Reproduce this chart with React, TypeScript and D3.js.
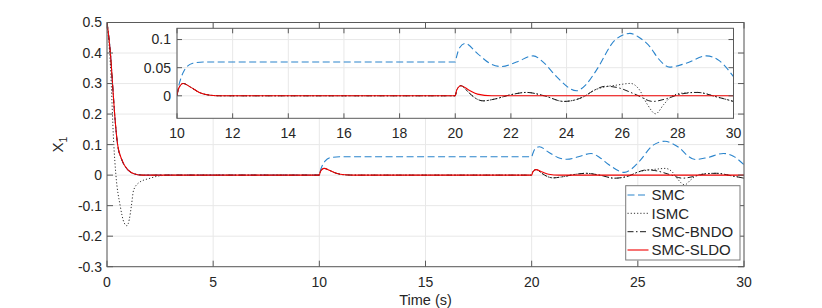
import * as d3 from "d3";

// values: [time (s), x1]
const smcData: [number, number][] = [
  [0, 0.5], [0.16, 0.4], [0.26, 0.3], [0.36, 0.2], [0.5, 0.1], [0.7, 0.05], [1.0, 0.016], [1.3, 0.004], [1.7, 0],
  [10, 0], [10.05, 0.015], [10.12, 0.028], [10.27, 0.046], [10.57, 0.058], [10.95, 0.06], [20, 0.06],
  [20.05, 0.07], [20.15, 0.085], [20.36, 0.093], [20.8, 0.075], [21.23, 0.058], [21.66, 0.052], [22.2, 0.06],
  [22.8, 0.071], [23.2, 0.058], [23.64, 0.034], [24.36, 0.009], [24.7, 0.02], [25.08, 0.046], [25.74, 0.099],
  [26.28, 0.111], [26.6, 0.104], [27.0, 0.087], [27.3, 0.066], [27.7, 0.051], [28.3, 0.058], [29.03, 0.071],
  [29.5, 0.062], [30, 0.034],
];

const ismcData: [number, number][] = [
  [0, 0.5], [0.16, 0.36], [0.32, 0.1], [0.42, 0], [0.62, -0.1], [0.8, -0.155], [0.94, -0.166], [1.05, -0.145],
  [1.15, -0.1], [1.25, -0.05], [1.5, -0.025], [2.04, -0.01], [2.5, -0.002], [3, 0],
  [10, 0], [10.05, 0.012], [10.22, 0.022], [10.5, 0.015], [10.8, 0.006], [11.2, 0.001], [11.6, 0],
  [20, 0], [20.05, 0.01], [20.2, 0.018], [20.5, 0.005], [20.75, -0.005], [21.0, -0.009], [21.4, -0.006],
  [22.0, 0.002], [22.56, 0.006], [23.2, 0.0], [23.9, -0.01], [24.6, -0.002], [25.0, 0.01], [25.4, 0.016],
  [25.8, 0.019], [26.3, 0.022], [26.6, 0.012], [26.9, -0.015], [27.2, -0.032], [27.5, -0.015], [27.8, 0],
  [28.2, 0.005], [28.7, 0.006], [29.4, -0.002], [30, -0.01],
];

const bndoData: [number, number][] = [
  [0, 0.5], [0.16, 0.4], [0.26, 0.3], [0.36, 0.2], [0.5, 0.1], [0.7, 0.05], [1.0, 0.016], [1.3, 0.004], [1.7, 0],
  [10, 0], [10.05, 0.012], [10.22, 0.022], [10.5, 0.015], [10.8, 0.006], [11.2, 0.001], [11.6, 0],
  [20, 0], [20.05, 0.01], [20.2, 0.018], [20.5, 0.005], [20.75, -0.005], [21.0, -0.009], [21.4, -0.006],
  [22.0, 0.002], [22.56, 0.006], [23.2, 0.0], [23.9, -0.01], [24.6, -0.002], [25.0, 0.01], [25.4, 0.017],
  [25.8, 0.015], [26.5, 0.002], [27.1, -0.01], [27.6, -0.005], [28.1, 0.003], [28.7, 0.006], [29.4, -0.002],
  [30, -0.01],
];

const sldoData: [number, number][] = [
  [0, 0.5], [0.16, 0.4], [0.26, 0.3], [0.36, 0.2], [0.5, 0.1], [0.7, 0.05], [1.0, 0.016], [1.3, 0.004], [1.7, 0],
  [10, 0], [10.05, 0.012], [10.22, 0.022], [10.5, 0.015], [10.8, 0.006], [11.2, 0.001], [11.6, 0],
  [20, 0], [20.05, 0.01], [20.2, 0.018], [20.5, 0.01], [20.8, 0.003], [21.3, 0], [30, 0],
];

const mainXTicks = [0, 5, 10, 15, 20, 25, 30];
const mainYTicks = [-0.3, -0.2, -0.1, 0, 0.1, 0.2, 0.3, 0.4, 0.5];
const insetXTicks = [10, 12, 14, 16, 18, 20, 22, 24, 26, 28, 30];
const insetYTicks = [0, 0.05, 0.1];

const series = [
  { name: "SMC", data: smcData, color: "#2a84cc", dash: "7,3.5", width: 1.1 },
  { name: "ISMC", data: ismcData, color: "#333", dash: "1.2,2", width: 1 },
  { name: "SMC-BNDO", data: bndoData, color: "#1a1a1a", dash: "6,2.5,1.5,2.5", width: 1 },
  { name: "SMC-SLDO", data: sldoData, color: "#f00000", dash: "none", width: 1.1 },
];

const W = 822, H = 308;
const font = "'Liberation Sans', Arial, Helvetica, sans-serif";
const txt = "#262626";
const axisCol = "#5a5a5a";
const gridCol = "#e8e8e8";

const main = { l: 107, r: 744, t: 22.5, b: 266.7 };
const inset = { l: 177, r: 733.5, t: 28.3, b: 118.3 };

export default function App() {
  const x = d3.scaleLinear().domain([0, 30]).range([main.l, main.r]);
  const y = d3.scaleLinear().domain([-0.3, 0.5]).range([main.b, main.t]);
  const xi = d3.scaleLinear().domain([10, 30]).range([inset.l, inset.r]);
  const yi = d3.scaleLinear().domain([-0.04, 0.12]).range([inset.b, inset.t]);

  const lineMain = d3.line<[number, number]>().x(d => x(d[0])).y(d => y(d[1])).curve(d3.curveMonotoneX);
  const lineInset = d3.line<[number, number]>()
    .x(d => xi(d[0])).y(d => yi(d[1])).curve(d3.curveMonotoneX);

  const fmt = (v: number) => (Math.abs(v) < 1e-9 ? "0" : String(+v.toFixed(2)));
  const tk = 6;
  const tki = 5;

  const legend = { l: 625.7, r: 740, t: 185.7, b: 260 };
  const legendRows = [195, 213.3, 231.7, 250];

  return (
    <svg width={W} height={H} style={{ position: "absolute", left: 0, top: 0, background: "#fff" }}
      fontFamily={font}>
      <defs>
        <clipPath id="clipMain"><rect x={main.l} y={main.t} width={main.r - main.l} height={main.b - main.t} /></clipPath>
        <clipPath id="clipInset"><rect x={inset.l} y={inset.t} width={inset.r - inset.l} height={inset.b - inset.t} /></clipPath>
      </defs>
      <rect x={0} y={0} width={W} height={H} fill="#fff" />

      {/* main axes */}
      <rect x={main.l} y={main.t} width={main.r - main.l} height={main.b - main.t} fill="#fff" />
      {mainXTicks.map(t => (
        <line key={"gx" + t} x1={x(t)} x2={x(t)} y1={main.t} y2={main.b} stroke={gridCol} />
      ))}
      {mainYTicks.map(t => (
        <line key={"gy" + t} x1={main.l} x2={main.r} y1={y(t)} y2={y(t)} stroke={gridCol} />
      ))}
      <g clipPath="url(#clipMain)" fill="none">
        {series.map(s => (
          <path key={s.name} d={lineMain(s.data) || ""} stroke={s.color} strokeWidth={s.width}
            strokeDasharray={s.dash} />
        ))}
      </g>
      <rect x={main.l} y={main.t} width={main.r - main.l} height={main.b - main.t} fill="none" stroke={axisCol} />
      {mainXTicks.map(t => (
        <g key={"tx" + t} stroke={axisCol}>
          <line x1={x(t)} x2={x(t)} y1={main.b} y2={main.b - tk} />
          <line x1={x(t)} x2={x(t)} y1={main.t} y2={main.t + tk} />
        </g>
      ))}
      {mainYTicks.map(t => (
        <g key={"ty" + t} stroke={axisCol}>
          <line x1={main.l} x2={main.l + tk} y1={y(t)} y2={y(t)} />
          <line x1={main.r} x2={main.r - tk} y1={y(t)} y2={y(t)} />
        </g>
      ))}
      {mainXTicks.map(t => (
        <text key={"lx" + t} x={x(t)} y={main.b + 15} dy="0.35em" textAnchor="middle" fontSize={14} fill={txt}>{t}</text>
      ))}
      {mainYTicks.map(t => (
        <text key={"ly" + t} x={main.l - 5} y={y(t)} dy="0.35em" textAnchor="end" fontSize={14} fill={txt}>{fmt(t)}</text>
      ))}
      <text x={(main.l + main.r) / 2} y={300} dy="0.35em" textAnchor="middle" fontSize={14.5} fill={txt}>Time (s)</text>
      <text transform={`translate(63,${(main.t + main.b) / 2}) rotate(-90)`} textAnchor="middle" fontSize={15} fill={txt}>
        X<tspan fontSize={10.5} dy="4">1</tspan>
      </text>

      {/* inset axes */}
      <rect x={inset.l} y={inset.t} width={inset.r - inset.l} height={inset.b - inset.t} fill="#fff" />
      {insetXTicks.map(t => (
        <line key={"igx" + t} x1={xi(t)} x2={xi(t)} y1={inset.t} y2={inset.b} stroke={gridCol} />
      ))}
      {insetYTicks.map(t => (
        <line key={"igy" + t} x1={inset.l} x2={inset.r} y1={yi(t)} y2={yi(t)} stroke={gridCol} />
      ))}
      <g clipPath="url(#clipInset)" fill="none">
        {series.map(s => (
          <path key={s.name} d={lineInset(s.data.filter(d => d[0] >= 9.9)) || ""} stroke={s.color}
            strokeWidth={s.width} strokeDasharray={s.dash} />
        ))}
      </g>
      <rect x={inset.l} y={inset.t} width={inset.r - inset.l} height={inset.b - inset.t} fill="none" stroke={axisCol} />
      {insetXTicks.map(t => (
        <g key={"itx" + t} stroke={axisCol}>
          <line x1={xi(t)} x2={xi(t)} y1={inset.b} y2={inset.b - tki} />
          <line x1={xi(t)} x2={xi(t)} y1={inset.t} y2={inset.t + tki} />
        </g>
      ))}
      {insetYTicks.map(t => (
        <g key={"ity" + t} stroke={axisCol}>
          <line x1={inset.l} x2={inset.l + tki} y1={yi(t)} y2={yi(t)} />
          <line x1={inset.r} x2={inset.r - tki} y1={yi(t)} y2={yi(t)} />
        </g>
      ))}
      {insetXTicks.map(t => (
        <text key={"ilx" + t} x={xi(t)} y={inset.b + 15} dy="0.35em" textAnchor="middle" fontSize={14} fill={txt}>{t}</text>
      ))}
      {insetYTicks.map(t => (
        <text key={"ily" + t} x={inset.l - 6} y={yi(t)} dy="0.35em" textAnchor="end" fontSize={14} fill={txt}>{fmt(t)}</text>
      ))}

      {/* legend */}
      <rect x={legend.l} y={legend.t} width={legend.r - legend.l} height={legend.b - legend.t} fill="#fff" stroke="#7a7a7a" />
      {series.map((s, i) => (
        <g key={"lg" + s.name}>
          <line x1={627.5} x2={648.5} y1={legendRows[i]} y2={legendRows[i]} stroke={s.color}
            strokeWidth={s.width} strokeDasharray={s.dash} />
          <text x={651.5} y={legendRows[i]} dy="0.35em" fontSize={15} fill={txt}>{s.name}</text>
        </g>
      ))}
    </svg>
  );
}
